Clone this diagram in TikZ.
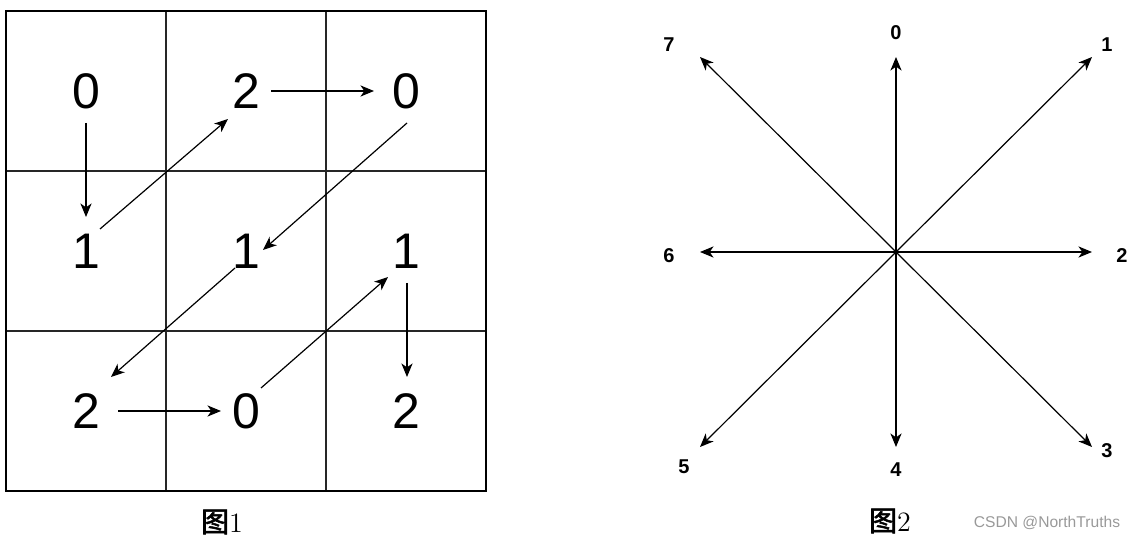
\documentclass[tikz,border=0pt]{standalone}
\usepackage{fontspec}
\usetikzlibrary{arrows.meta,calc}
\newfontfamily\hel{Liberation Sans}
\newfontfamily\cjk[FakeBold=2]{Noto Sans CJK SC}
\begin{document}
\begin{tikzpicture}[x=0.5pt,y=-0.5pt,
  gridline/.style={line width=0.75pt,black!85},
  bigdigit/.style={font={\hel\fontsize{25}{29}\selectfont},inner sep=0pt},
  smalldigit/.style={font={\hel\bfseries\fontsize{10}{12}\selectfont},inner sep=0pt},
  caption/.style={inner sep=0pt,font={\fontsize{14}{16}\selectfont}},
  arr/.style={line width=0.6pt,-{Stealth[length=6.8pt,width=5.6pt,inset=2pt]}},
  wmark/.style={font={\hel\fontsize{7.8}{9}\selectfont},text=black!40,inner sep=0pt}]
\useasboundingbox (0,0) rectangle (1137,540);
% ---- Figure 1 grid
\draw[gridline] (166,11) -- (166,491) (326,11) -- (326,491)
                (6,171) -- (486,171) (6,331) -- (486,331);
\draw[line width=1pt] (6,11) rectangle (486,491);
% digits
\node[bigdigit] (a00) at (86,91)  {0};
\node[bigdigit] (a01) at (246,91) {2};
\node[bigdigit] (a02) at (406,91) {0};
\node[bigdigit] (a10) at (86,251) {1};
\node[bigdigit] (a11) at (246,251){1};
\node[bigdigit] (a12) at (406,251){1};
\node[bigdigit] (a20) at (86,411) {2};
\node[bigdigit] (a21) at (246,411){0};
\node[bigdigit] (a22) at (406,411){2};
% arrows
\draw[arr] ([shift={(0,32)}]a00.center) -- ([shift={(0,-34)}]a10.center);
\draw[arr] ([shift={(14,-22)}]a10.center) -- ([shift={(-18,28)}]a01.center);
\draw[arr] ([shift={(25,0)}]a01.center) -- ([shift={(-32,0)}]a02.center);
\draw[arr] ([shift={(1,32)}]a02.center) -- ([shift={(17,-1)}]a11.center);
\draw[arr] ([shift={(-11,17)}]a11.center) -- ([shift={(25,-34)}]a20.center);
\draw[arr] ([shift={(32,0)}]a20.center) -- ([shift={(-25,0)}]a21.center);
\draw[arr] ([shift={(15,-23)}]a21.center) -- ([shift={(-18,26)}]a12.center);
\draw[arr] ([shift={(1,32)}]a12.center) -- ([shift={(1,-34)}]a22.center);
\node[caption] (cap1) at (222,522) {{\cjk 图}1};
% ---- Figure 2
\coordinate (c) at (896,252);
\coordinate (e0) at (896,57);
\coordinate (e1) at (1092,57);
\coordinate (e2) at (1092,252);
\coordinate (e3) at (1092,447);
\coordinate (e4) at (896,447);
\coordinate (e5) at (700,447);
\coordinate (e6) at (700,252);
\coordinate (e7) at (700,57);
\foreach \i in {0,...,7} {\draw[arr] (c) -- (e\i);}
\node[smalldigit] (l0) at (896,33)  {0};
\node[smalldigit] (l1) at (1107,45) {1};
\node[smalldigit] (l2) at (1122,256){2};
\node[smalldigit] (l3) at (1107,451){3};
\node[smalldigit] (l4) at (896,470) {4};
\node[smalldigit] (l5) at (684,467) {5};
\node[smalldigit] (l6) at (669,256) {6};
\node[smalldigit] (l7) at (669,45)  {7};
\node[caption] (cap2) at (890,521) {{\cjk 图}2};
\node[wmark] (wm) at (1047,523) {CSDN @NorthTruths};
\end{tikzpicture}
\end{document}
